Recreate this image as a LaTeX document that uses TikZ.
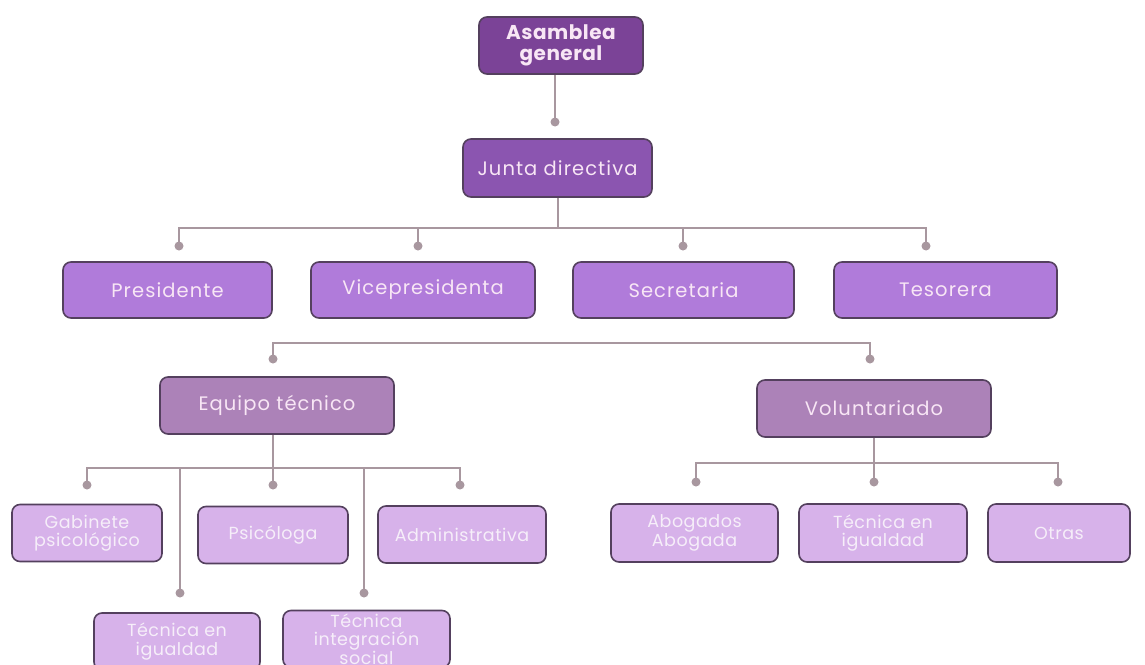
\documentclass[tikz,border=0pt]{standalone}
\usepackage{fontspec}
\setmainfont{Poppins}
\newfontfamily\myspA{Poppins}[LetterSpace=5.5]
\newfontfamily\myspB{Poppins}[LetterSpace=2.5]
\newfontfamily\myspC{Poppins}[LetterSpace=3]
\definecolor{cAsam}{HTML}{7B4397}
\definecolor{cJunta}{HTML}{8B55B0}
\definecolor{cRow}{HTML}{B07BDA}
\definecolor{cMid}{HTML}{AC82B8}
\definecolor{cLight}{HTML}{D7B2EA}
\definecolor{cBorder}{HTML}{54405E}
\definecolor{cLine}{HTML}{A8979F}
\definecolor{cTxt}{HTML}{F8E6F5}
\definecolor{cTxtL}{HTML}{F6EEF9}
\tikzset{
  box/.style={draw=cBorder, line width=1.6pt, rounded corners=8pt, align=center, inner sep=1pt, text=cTxt},
  toprow/.style={box, fill=cRow, minimum height=56pt, font=\myspA\fontsize{19.5}{22}\selectfont},
  midrow/.style={box, fill=cMid, minimum width=234pt, minimum height=57pt, font=\myspA\fontsize{19.5}{22}\selectfont},
  lowrow/.style={box, fill=cLight, minimum height=57pt, text=cTxtL, font=\myspC\fontsize{17.5}{18.5}\selectfont},
  conn/.style={draw=cLine, line width=2pt},
  dotc/.style={fill=cLine}
}
\begin{document}
\begin{tikzpicture}[x=1pt, y=-1pt]
\useasboundingbox (0,0) rectangle (1145,664);
\clip (0,0) rectangle (1145,664);
\fill[white] (0,0) rectangle (1145,664);

% nodes
\node[box, fill=cAsam, minimum width=164pt, minimum height=57pt, font=\myspB\bfseries\fontsize{20}{21}\selectfont] (asam) at (561,45.5) {Asamblea\\general};
\node[box, fill=cJunta, minimum width=189pt, minimum height=58pt, font=\myspA\fontsize{19.5}{22}\selectfont] (junta) at (557.5,168) {Junta directiva};

\node[toprow, minimum width=209pt] (pres) at (167.5,290) {Presidente};
\node[toprow, minimum width=224pt] (vice) at (423,290) {Vicepresidenta};
\node[toprow, minimum width=221pt] (secr) at (683.5,290) {Secretaria};
\node[toprow, minimum width=223pt] (teso) at (945.5,290) {Tesorera};

\node[midrow] (equi) at (277,405.5) {Equipo técnico};
\node[midrow] (volu) at (874,408.5) {Voluntariado};

\node[lowrow, minimum width=150pt] (gabi) at (87,533) {Gabinete\\psicológico};
\node[lowrow, minimum width=150pt] (psic) at (273,535) {Psicóloga};
\node[lowrow, minimum width=168pt] (admi) at (462,534.5) {Administrativa};
\node[lowrow, minimum width=166pt] (tecA) at (177,641.5) {Técnica en\\igualdad};
\node[lowrow, minimum width=167pt] (tecB) at (366.5,639) {Técnica\\integración\\social};

\node[lowrow, minimum width=167pt, minimum height=58pt] (abog) at (694.5,533) {Abogados\\Abogada};
\node[lowrow, minimum width=168pt, minimum height=58pt] (tecC) at (883,533) {Técnica en\\igualdad};
\node[lowrow, minimum width=142pt, minimum height=58pt] (otra) at (1059,533) {Otras};

% connector coordinates
\coordinate (dJ) at (555,122);
\coordinate (bar1) at (558,228);
\coordinate (dP) at (179,246);
\coordinate (dV) at (418,246);
\coordinate (dS) at (683,246);
\coordinate (dT) at (926,246);
\coordinate (bar2) at (273,342.5);
\coordinate (dE) at (273,359);
\coordinate (dVo) at (870,359);
\coordinate (bar3) at (273,468);
\coordinate (dG) at (87,485);
\coordinate (dPs) at (273,485);
\coordinate (dA) at (460,485);
\coordinate (dTA) at (180,593);
\coordinate (dTB) at (364,593);
\coordinate (bar4) at (874,463);
\coordinate (dAb) at (696,482);
\coordinate (dTC) at (874,482);
\coordinate (dO) at (1058,482);

% connectors
\draw[conn] (dJ |- asam.south) -- (dJ);
\draw[conn] (bar1 |- junta.south) -- (bar1);
\draw[conn] (dP) -- (dP |- bar1) -- (dT |- bar1) -- (dT);
\draw[conn] (dV |- bar1) -- (dV);
\draw[conn] (dS |- bar1) -- (dS);

\draw[conn] (dE) -- (dE |- bar2) -- (dVo |- bar2) -- (dVo);

\draw[conn] (bar3 |- equi.south) -- (bar3);
\draw[conn] (dG) -- (dG |- bar3) -- (dA |- bar3) -- (dA);
\draw[conn] (dPs |- bar3) -- (dPs);
\draw[conn] (dTA |- bar3) -- (dTA);
\draw[conn] (dTB |- bar3) -- (dTB);

\draw[conn] (bar4 |- volu.south) -- (bar4);
\draw[conn] (dAb) -- (dAb |- bar4) -- (dO |- bar4) -- (dO);
\draw[conn] (dTC |- bar4) -- (dTC);

% dots
\foreach \d in {dJ,dP,dV,dS,dT,dE,dVo,dG,dPs,dA,dTA,dTB,dAb,dTC,dO}
  \fill[dotc] (\d) circle[radius=4.5pt];
\end{tikzpicture}
\end{document}
